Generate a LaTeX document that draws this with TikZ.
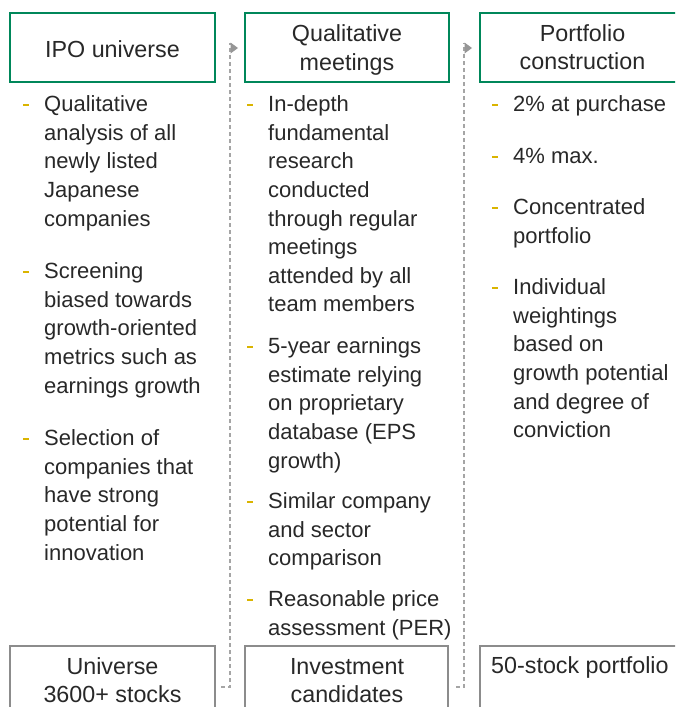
\documentclass[tikz,border=0pt]{standalone}
\usepackage{fontspec}
\setmainfont{Liberation Sans}
\usetikzlibrary{calc}
\definecolor{boxgreen}{RGB}{0,135,90}
\definecolor{boxgray}{RGB}{140,140,140}
\definecolor{txt}{RGB}{40,40,40}
\definecolor{dashgold}{RGB}{218,180,0}
\definecolor{conngray}{RGB}{165,165,165}
\definecolor{tipgray}{RGB}{150,150,150}
\begin{document}
\begin{tikzpicture}[x=1pt,y=-1pt,
  every node/.style={text=txt,font=\fontsize{22}{28.6}\selectfont},
  boxfont/.style={font=\fontsize{23.3}{28.6}\selectfont},
  topbox/.style={draw=boxgreen,line width=2.8pt,minimum height=69pt,inner sep=0pt},
  botbox/.style={draw=boxgray,line width=2.4pt,minimum height=120pt,anchor=north,inner sep=0pt},
  boxtext/.style={boxfont,anchor=north,align=center,inner sep=0pt},
  para/.style={anchor=north west,align=left,inner sep=0pt},
  bdash/.style={draw=dashgold,line width=2pt},
  conn/.style={draw=conngray,line width=1.2pt,dash pattern=on 4pt off 3pt},
  tiptri/.style={fill=tipgray}
]
\clip (0,0) rectangle (675,707);
% top boxes
\node[topbox,minimum width=205pt] (t1) at (112.5,47.5) {};
\node[topbox,minimum width=204pt] (t2) at (347,47.5) {};
\node[topbox,minimum width=205pt] (t3) at (582.5,47.5) {};
\node[boxtext] (t1t) at (112.5,37) {\strut IPO universe};
\node[boxtext] (t2t) at (347,21.5) {\strut Qualitative\\meetings};
\node[boxtext] (t3t) at (582.5,21) {\strut Portfolio\\construction};
% bottom boxes
\node[botbox,minimum width=205pt] (b1) at (112.5,645) {};
\node[botbox,minimum width=203pt] (b2) at (346.5,645) {};
\node[botbox,minimum width=205pt] (b3) at (582.5,645) {};
\node[boxtext] (b1t) at (112.5,654) {\strut Universe\\3600+ stocks};
\node[boxtext] (b2t) at (347,654) {\strut Investment\\candidates};
\node[boxfont,anchor=north west,inner sep=0pt] (b3t) at (491,653) {\strut 50-stock portfolio};
% column 1
\node[para] (c1a) at (44,91.5) {\strut Qualitative\\analysis of all\\newly listed\\Japanese\\companies};
\node[para] (c1b) at (44,258.5) {\strut Screening\\biased towards\\growth-oriented\\metrics such as\\earnings growth};
\node[para] (c1c) at (44,425.5) {\strut Selection of\\companies that\\have strong\\potential for\\innovation};
% column 2
\node[para] (c2a) at (268,91.5) {\strut In-depth\\fundamental\\research\\conducted\\through regular\\meetings\\attended by all\\team members};
\node[para] (c2b) at (268,333.5) {\strut 5-year earnings\\estimate relying\\on proprietary\\database (EPS\\growth)};
\node[para] (c2c) at (268,488.5) {\strut Similar company\\and sector\\comparison};
\node[para] (c2d) at (268,586.5) {\strut Reasonable price\\assessment (PER)};
% column 3
\node[para] (c3a) at (513,91.5) {\strut 2\% at purchase};
\node[para] (c3b) at (513,143.5) {\strut 4\% max.};
\node[para] (c3c) at (513,194.5) {\strut Concentrated\\portfolio};
\node[para] (c3d) at (513,274.5) {\strut Individual\\weightings\\based on\\growth potential\\and degree of\\conviction};
% bullet dashes
\foreach \p in {c1a,c1b,c1c,c2a,c2b,c2c,c2d,c3a,c3b,c3c,c3d}
  \draw[bdash] ($(\p.north west)+(-21,13.5)$) -- ++(6,0);
% connectors
\coordinate (k1s) at (221,687);
\coordinate (k1e) at (238,48);
\coordinate (k2s) at (456,687);
\coordinate (k2e) at (472,48);
\draw[conn] (k1s) -| ($(k1e)+(-8,-5)$);
\fill[tiptri] (k1e) -- ++(-7.5,-5.5) -- ++(0,11) -- cycle;
\draw[conn] (k2s) -| ($(k2e)+(-8,-5)$);
\fill[tiptri] (k2e) -- ++(-7.5,-5.5) -- ++(0,11) -- cycle;
\end{tikzpicture}
\end{document}
